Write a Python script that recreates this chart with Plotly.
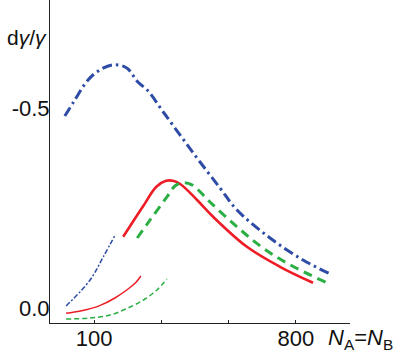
import plotly.graph_objects as go

# ---- data (N_A = N_B, d gamma / gamma) ----
blue_thick_x = [74, 81, 94, 106, 122, 140, 157, 173, 204, 248, 298, 366, 436, 613, 861, 1160]
blue_thick_y = [-0.48, -0.515, -0.57, -0.595, -0.608, -0.60, -0.565, -0.545, -0.49, -0.425,
                -0.365, -0.30, -0.245, -0.175, -0.12, -0.083]

red_thick_x = [135, 166, 190, 210, 225, 243, 289, 341, 483, 679, 954]
red_thick_y = [-0.178, -0.255, -0.303, -0.318, -0.318, -0.31, -0.27, -0.228, -0.153, -0.103, -0.063]

green_thick_x = [156, 178, 212, 230, 248, 274, 330, 436, 570, 753, 1102]
green_thick_y = [-0.175, -0.22, -0.278, -0.305, -0.313, -0.308, -0.265, -0.203, -0.15, -0.108, -0.063]

blue_thin_x = [75, 96, 110, 125]
blue_thin_y = [-0.005, -0.07, -0.128, -0.185]

red_thin_x = [75, 87, 106, 124, 140, 153, 162]
red_thin_y = [0.013, 0.0075, -0.006, -0.025, -0.045, -0.0625, -0.08]

green_thin_x = [75, 96, 118, 145, 169, 191, 212]
green_thin_y = [0.0275, 0.025, 0.0175, -0.0025, -0.0225, -0.045, -0.0725]

x_tick_vals = [100, 200, 400, 800]
x_tick_text = ["100", "", "", "800"]
y_tick_vals = [-0.5, 0.0]
y_tick_text = ["-0.5", "0.0"]

BLUE = "#2E4BA6"
RED = "#EE1C25"
GREEN = "#2BAE43"
FONT = "Arial, Liberation Sans, sans-serif"

fig = go.Figure()

def add(x, y, color, width, dash):
    fig.add_trace(go.Scatter(x=x, y=y, mode="lines",
                             line=dict(color=color, width=width, dash=dash, shape="spline", smoothing=1.0),
                             showlegend=False, hoverinfo="skip"))

add(blue_thick_x, blue_thick_y, BLUE, 3, "10px,4px,2.5px,4px")
add(red_thick_x, red_thick_y, RED, 2.6, "solid")
add(green_thick_x, green_thick_y, GREEN, 3, "9px,6px")
add(blue_thin_x, blue_thin_y, BLUE, 1.5, "5px,2px,2px,2px")
add(red_thin_x, red_thin_y, RED, 1.5, "solid")
add(green_thin_x, green_thin_y, GREEN, 1.5, "5px,3px")

fig.update_layout(
    width=394, height=356,
    margin=dict(l=50, r=44, t=0, b=33),
    paper_bgcolor="white", plot_bgcolor="white",
    font=dict(family=FONT, size=22, color="#111111"),
    xaxis=dict(type="log", range=[1.803, 3.145], showgrid=False, zeroline=False,
               showline=True, linecolor="#222222", linewidth=1,
               tickvals=x_tick_vals, ticktext=x_tick_text,
               ticks="inside", ticklen=3, tickcolor="#222222", ticklabelstandoff=-4,
               tickfont=dict(family=FONT, size=22, color="#111111")),
    yaxis=dict(range=[0.0375, -0.77], showgrid=False, zeroline=False,
               showline=True, linecolor="#222222", linewidth=1,
               tickvals=y_tick_vals, ticktext=y_tick_text, ticks="", ticklabelstandoff=-5,
               tickfont=dict(family=FONT, size=22, color="#111111")),
    annotations=[
        dict(text="d<i>γ</i>/<i>γ</i>", xref="paper", yref="paper",
             x=-0.15, y=0.885, xanchor="left", yanchor="middle", showarrow=False,
             font=dict(family=FONT, size=21, color="#111111")),
        dict(text="<i>N</i><sub>A</sub>=<i>N</i><sub>B</sub>", xref="paper", yref="paper",
             x=0.92, y=-0.05, xanchor="left", yanchor="middle", showarrow=False,
             font=dict(family=FONT, size=22, color="#111111")),
    ],
)

fig.write_html("out.html", config={"displayModeBar": False},
               post_script="document.body.style.margin='0';document.body.style.padding='0';")
